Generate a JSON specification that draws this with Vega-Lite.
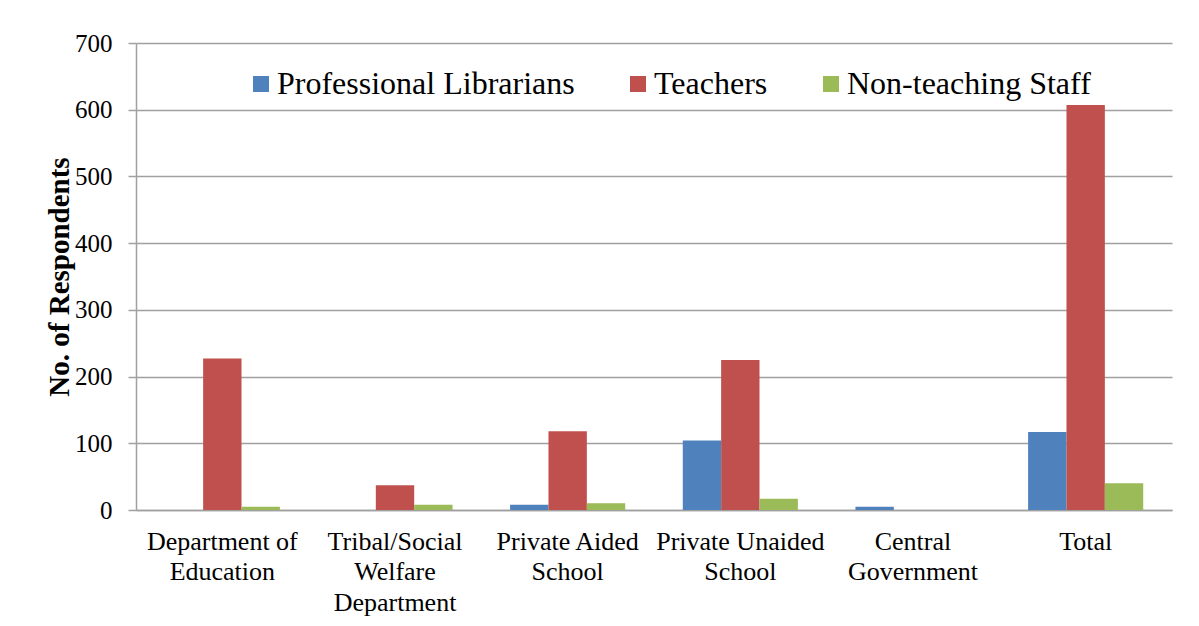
{
  "$schema": "https://vega.github.io/schema/vega-lite/v6.json",
  "width": 1036,
  "height": 467,
  "autosize": {"type": "none"},
  "padding": {"left": 136, "top": 43, "right": 27, "bottom": 116},
  "background": "white",
  "config": {
    "font": "Liberation Serif",
    "view": {"stroke": null},
    "axis": {"labelFont": "Liberation Serif", "titleFont": "Liberation Serif"},
    "legend": {"labelFont": "Liberation Serif"}
  },
  "data": {
    "values": [
      {"category": "Department of Education", "group": "Professional Librarians", "value": 0},
      {"category": "Department of Education", "group": "Teachers", "value": 227},
      {"category": "Department of Education", "group": "Non-teaching Staff", "value": 5},
      {"category": "Tribal/Social Welfare Department", "group": "Professional Librarians", "value": 0},
      {"category": "Tribal/Social Welfare Department", "group": "Teachers", "value": 37},
      {"category": "Tribal/Social Welfare Department", "group": "Non-teaching Staff", "value": 8},
      {"category": "Private Aided School", "group": "Professional Librarians", "value": 8},
      {"category": "Private Aided School", "group": "Teachers", "value": 118},
      {"category": "Private Aided School", "group": "Non-teaching Staff", "value": 10},
      {"category": "Private Unaided School", "group": "Professional Librarians", "value": 104},
      {"category": "Private Unaided School", "group": "Teachers", "value": 225},
      {"category": "Private Unaided School", "group": "Non-teaching Staff", "value": 17},
      {"category": "Central Government", "group": "Professional Librarians", "value": 5},
      {"category": "Central Government", "group": "Teachers", "value": 0},
      {"category": "Central Government", "group": "Non-teaching Staff", "value": 0},
      {"category": "Total", "group": "Professional Librarians", "value": 117},
      {"category": "Total", "group": "Teachers", "value": 607},
      {"category": "Total", "group": "Non-teaching Staff", "value": 40}
    ]
  },
  "mark": {"type": "bar"},
  "encoding": {
    "x": {
      "field": "category",
      "type": "nominal",
      "sort": null,
      "scale": {"paddingInner": 0, "paddingOuter": 0},
      "axis": {
        "title": null,
        "domain": true,
        "domainColor": "#a0a0a0",
        "domainWidth": 1.5,
        "ticks": false,
        "labelAngle": 0,
        "labelFont": "Liberation Serif",
        "labelFontSize": 26,
        "labelColor": "#000000",
        "labelPadding": 18,
        "labelLineHeight": 30.5,
        "labelExpr": "datum.value == 'Department of Education' ? ['Department of', 'Education'] : datum.value == 'Tribal/Social Welfare Department' ? ['Tribal/Social', 'Welfare', 'Department'] : datum.value == 'Private Aided School' ? ['Private Aided', 'School'] : datum.value == 'Private Unaided School' ? ['Private Unaided', 'School'] : datum.value == 'Central Government' ? ['Central', 'Government'] : datum.value"
      }
    },
    "xOffset": {
      "field": "group",
      "type": "nominal",
      "scale": {
        "domain": ["Professional Librarians", "Teachers", "Non-teaching Staff"],
        "paddingInner": 0,
        "paddingOuter": 0.75
      }
    },
    "y": {
      "field": "value",
      "type": "quantitative",
      "scale": {"domain": [0, 700], "nice": false},
      "axis": {
        "values": [0, 100, 200, 300, 400, 500, 600, 700],
        "title": "No. of Respondents",
        "titleFont": "Liberation Serif",
        "titleFontSize": 29,
        "titleFontWeight": "bold",
        "titleColor": "#000000",
        "titlePadding": 0,
        "domain": true,
        "domainColor": "#a0a0a0",
        "domainWidth": 1.5,
        "ticks": true,
        "tickSize": 8,
        "tickColor": "#a0a0a0",
        "tickWidth": 1.5,
        "grid": true,
        "gridColor": "#a0a0a0",
        "gridWidth": 1.5,
        "labelFont": "Liberation Serif",
        "labelFontSize": 25,
        "labelColor": "#000000",
        "labelPadding": 16
      }
    },
    "color": {
      "field": "group",
      "type": "nominal",
      "scale": {
        "domain": ["Professional Librarians", "Teachers", "Non-teaching Staff"],
        "range": ["#4F81BD", "#C0504D", "#9BBB59"]
      },
      "legend": {
        "title": null,
        "orient": "none",
        "legendX": 109,
        "legendY": 25,
        "direction": "horizontal",
        "symbolType": "square",
        "symbolSize": 256,
        "symbolStrokeWidth": 0,
        "labelFont": "Liberation Serif",
        "labelFontSize": 32,
        "labelColor": "#000000",
        "labelOffset": 0,
        "columnPadding": 47,
        "padding": 0,
        "labelLimit": 400
      }
    }
  }
}
